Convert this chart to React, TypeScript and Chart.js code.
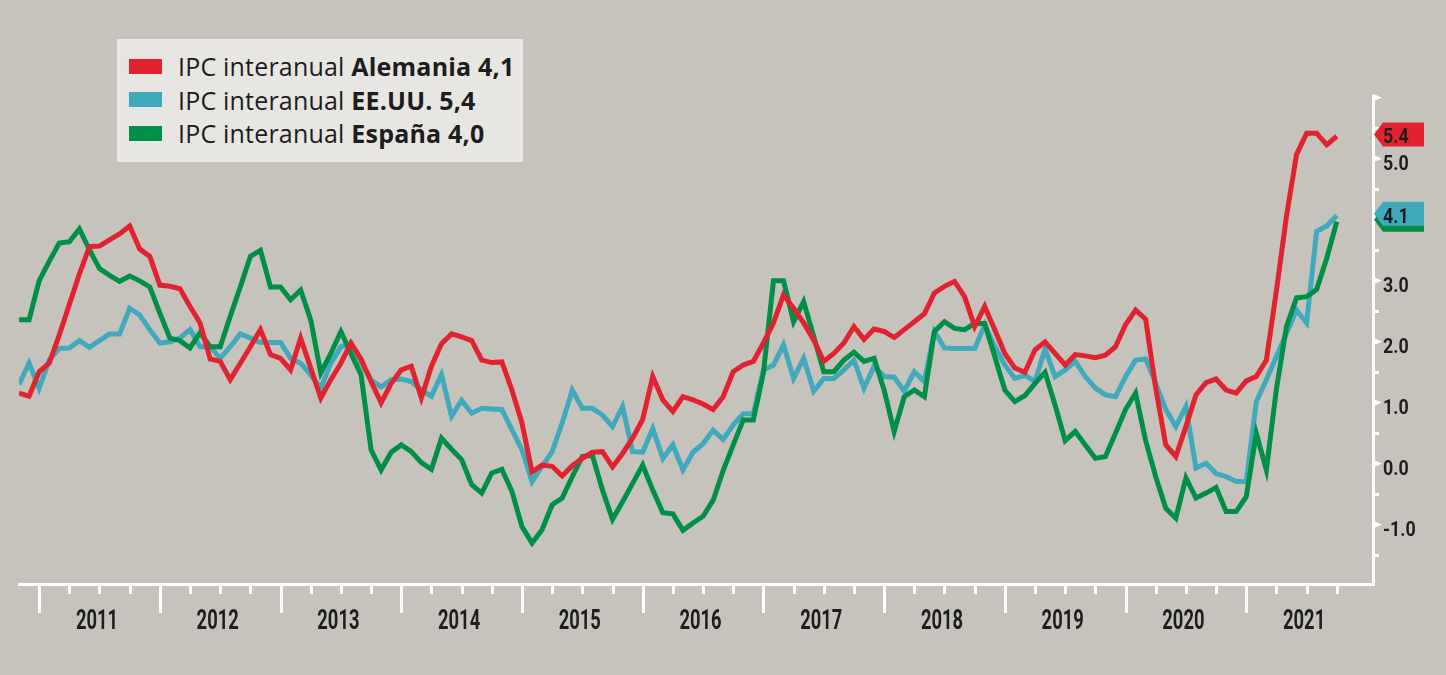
import React, { useEffect, useRef } from 'react';
import { Chart, registerables } from 'chart.js';

Chart.register(...registerables);

// Monthly series, first point = Nov 2010
const serieAlemania = [
  1.16, 1.11, 1.51, 1.65, 2.11, 2.61, 3.11, 3.56, 3.57, 3.67, 3.77, 3.9,
  3.52, 3.4, 2.93, 2.91, 2.87, 2.58, 2.31, 1.72, 1.68, 1.38, 1.65, 1.92,
  2.2, 1.79, 1.73, 1.54, 2.06, 1.57, 1.08, 1.38, 1.65, 1.98, 1.72, 1.35,
  1.0, 1.32, 1.54, 1.6, 1.08, 1.6, 1.97, 2.13, 2.08, 2.02, 1.7, 1.66,
  1.67, 1.21, 0.67, -0.13, -0.02, -0.04, -0.2, -0.03, 0.09, 0.19, 0.2, -0.05,
  0.17, 0.42, 0.73, 1.43, 1.05, 0.86, 1.1, 1.05, 0.98, 0.89, 1.1, 1.51,
  1.62, 1.68, 1.98, 2.31, 2.77, 2.55, 2.31, 2.03, 1.68, 1.81, 1.98, 2.25,
  2.04, 2.21, 2.17, 2.07, 2.2, 2.33, 2.46, 2.8, 2.91, 2.99, 2.74, 2.25,
  2.58, 2.2, 1.81, 1.57, 1.5, 1.87, 2.0, 1.81, 1.62, 1.79, 1.77, 1.74,
  1.78, 1.92, 2.28, 2.52, 2.37, 1.24, 0.31, 0.12, 0.61, 1.13, 1.33, 1.39,
  1.21, 1.16, 1.36, 1.43, 1.7, 2.84, 4.06, 5.07, 5.42, 5.42, 5.23, 5.37,
];
const serieEEUU = [
  1.3, 1.65, 1.24, 1.7, 1.89, 1.9, 2.02, 1.91, 2.02, 2.13, 2.13, 2.55,
  2.44, 2.2, 1.98, 2.0, 2.06, 2.2, 1.92, 1.92, 1.73, 1.92, 2.13, 2.06,
  1.99, 1.99, 1.99, 1.73, 1.65, 1.46, 1.24, 1.65, 1.92, 1.97, 1.65, 1.38,
  1.26, 1.38, 1.39, 1.35, 1.21, 1.11, 1.46, 0.78, 1.04, 0.83, 0.91, 0.9,
  0.89, 0.56, 0.23, -0.29, -0.04, 0.2, 0.67, 1.21, 0.91, 0.91, 0.8, 0.61,
  0.94, 0.2, 0.19, 0.58, 0.09, 0.31, -0.1, 0.19, 0.33, 0.55, 0.4, 0.64,
  0.82, 0.82, 1.54, 1.62, 1.95, 1.4, 1.73, 1.19, 1.4, 1.4, 1.54, 1.7,
  1.24, 1.6, 1.43, 1.42, 1.19, 1.51, 1.35, 2.17, 1.9, 1.89, 1.89, 1.89,
  2.28, 1.92, 1.62, 1.4, 1.45, 1.35, 1.88, 1.43, 1.54, 1.68, 1.43, 1.24,
  1.13, 1.1, 1.43, 1.7, 1.72, 1.32, 0.89, 0.61, 0.94, -0.07, 0.01, -0.16,
  -0.21, -0.29, -0.29, 1.02, 1.38, 1.76, 2.14, 2.52, 2.31, 3.81, 3.9, 4.07,
];
const serieEspana = [
  2.36, 2.36, 3.0, 3.32, 3.62, 3.64, 3.85, 3.51, 3.2, 3.09, 2.99, 3.08,
  3.0, 2.9, 2.47, 2.06, 2.02, 1.9, 2.15, 1.92, 1.92, 2.42, 2.9, 3.4,
  3.5, 2.9, 2.9, 2.69, 2.85, 2.36, 1.49, 1.81, 2.17, 1.81, 1.46, 0.23,
  -0.1, 0.19, 0.31, 0.2, 0.02, -0.09, 0.42, 0.24, 0.07, -0.34, -0.48, -0.15,
  -0.09, -0.45, -1.03, -1.3, -1.08, -0.67, -0.56, -0.21, 0.12, 0.14, -0.43, -0.91,
  -0.62, -0.32, -0.02, -0.43, -0.8, -0.82, -1.09, -0.97, -0.86, -0.6, -0.11, 0.31,
  0.72, 0.72, 1.49, 3.0, 3.0, 2.33, 2.66, 2.09, 1.51, 1.51, 1.7, 1.83,
  1.68, 1.73, 1.21, 0.53, 1.1, 1.21, 1.1, 2.17, 2.33, 2.22, 2.2, 2.3,
  2.3, 1.76, 1.21, 1.02, 1.12, 1.32, 1.5, 0.96, 0.38, 0.53, 0.31, 0.09,
  0.12, 0.5, 0.89, 1.16, 0.38, -0.21, -0.73, -0.89, -0.23, -0.56, -0.48, -0.39,
  -0.78, -0.78, -0.54, 0.5, -0.1, 1.23, 2.25, 2.72, 2.74, 2.86, 3.37, 3.97,
];

const yearLabels = ['2011', '2012', '2013', '2014', '2015', '2016', '2017', '2018', '2019', '2020', '2021'];
const firstJanuaryIndex = 2; // Jan 2011 is the third monthly point
const yTickValues = [-1.5, -1, -0.5, 0, 0.5, 1, 1.5, 2, 2.5, 3, 3.5, 4, 4.5, 5, 5.5, 6];
const yLabelValues = [-1, 0, 1, 2, 3, 4, 5];

const legendPrefix = 'IPC interanual';
const legendNames = ['Alemania 4,1', 'EE.UU. 5,4', 'España 4,0'];
const lineColors = ['#e0232e', '#41a9bc', '#008f47'];

// end-of-series tags (drawn bottom to top: green, teal, red); green text is hidden under teal
const tagTexts = ['', '4.1', '5.4'];
const tagValues = [4.0, 4.1, 5.4];
const tagColors = ['#008f47', '#41a9bc', '#e0232e'];

const COND = "Roboto, 'Liberation Sans', sans-serif";
const BG = '#c6c3bc';
const INK = '#1e1e1e';

function narrowText(ctx: CanvasRenderingContext2D, text: string, x: number, y: number, size: number, sx: number, align: CanvasTextAlign) {
  if (!text) return;
  ctx.save();
  ctx.translate(x, y);
  ctx.scale(sx, 1);
  ctx.font = `bold ${size}px ${COND}`;
  ctx.textAlign = align;
  ctx.textBaseline = 'alphabetic';
  ctx.fillStyle = INK;
  ctx.fillText(text, 0, 0);
  ctx.restore();
}

const overlayPlugin = {
  id: 'overlay',
  afterDraw(chart: any) {
    const { ctx, scales } = chart;
    const xs = scales.x;
    const ys = scales.y;
    const axisY = ys.bottom;
    const axisX = xs.right;
    ctx.save();
    // x tick marks: quarterly minor, yearly major
    ctx.strokeStyle = '#ffffff';
    ctx.lineWidth = 3;
    for (let m = firstJanuaryIndex; m < serieAlemania.length; m += 3) {
      const px = Math.round(xs.getPixelForValue(m)) + 0.5;
      const major = (m - firstJanuaryIndex) % 12 === 0;
      ctx.beginPath();
      ctx.moveTo(px, axisY);
      ctx.lineTo(px, axisY + (major ? 29 : 10));
      ctx.stroke();
    }
    // year labels
    yearLabels.forEach((label, k) => {
      const px = xs.getPixelForValue(firstJanuaryIndex + 12 * k + 5.75);
      narrowText(ctx, label, px, axisY + 45, 27, 0.68, 'center');
    });
    // y integer flags
    ctx.fillStyle = '#ffffff';
    for (const v of yTickValues) {
      if (!Number.isInteger(v)) continue;
      const py = ys.getPixelForValue(v);
      ctx.beginPath();
      ctx.moveTo(axisX, py - 4);
      ctx.lineTo(axisX + 9, py);
      ctx.lineTo(axisX, py + 3.5);
      ctx.closePath();
      ctx.fill();
    }
    // y labels
    for (const v of yLabelValues) {
      const py = ys.getPixelForValue(v);
      narrowText(ctx, v.toFixed(1), axisX + 10, py + 11, 21, 0.85, 'left');
    }
    // tags
    for (let i = 0; i < tagValues.length; i++) {
      const py = ys.getPixelForValue(tagValues[i]);
      const h = 24;
      const tip = axisX + 1;
      const bodyL = axisX + 10;
      const bodyR = axisX + 51;
      ctx.fillStyle = tagColors[i];
      ctx.beginPath();
      ctx.moveTo(tip, py);
      ctx.lineTo(bodyL, py - h / 2);
      ctx.lineTo(bodyR, py - h / 2);
      ctx.lineTo(bodyR, py + h / 2);
      ctx.lineTo(bodyL, py + h / 2);
      ctx.closePath();
      ctx.fill();
      narrowText(ctx, tagTexts[i], axisX + 10, py + 9, 21, 0.85, 'left');
    }
    ctx.restore();
  },
};

export default function App() {
  const canvasRef = useRef<HTMLCanvasElement>(null);

  useEffect(() => {
    const toPoints = (arr: number[]) => arr.map((v, i) => ({ x: i, y: v }));
    const chart = new Chart(canvasRef.current as HTMLCanvasElement, {
      type: 'line',
      data: {
        datasets: [
          { label: `${legendPrefix} ${legendNames[0]}`, data: toPoints(serieAlemania), borderColor: lineColors[0], order: 0 },
          { label: `${legendPrefix} ${legendNames[1]}`, data: toPoints(serieEEUU), borderColor: lineColors[1], order: 2 },
          { label: `${legendPrefix} ${legendNames[2]}`, data: toPoints(serieEspana), borderColor: lineColors[2], order: 1 },
        ].map((d) => ({
          ...d,
          borderWidth: 5,
          pointRadius: 0,
          tension: 0,
          fill: false,
          borderJoinStyle: 'miter' as const,
        })),
      },
      options: {
        responsive: false,
        animation: false,
        layout: { padding: { left: 19, top: 96, right: 0, bottom: 0 } },
        plugins: { legend: { display: false }, tooltip: { enabled: false } },
        scales: {
          x: {
            type: 'linear',
            min: 0,
            max: 134.6,
            afterFit: (s: any) => { s.height = 91; },
            ticks: { display: false },
            grid: { display: false, drawTicks: false },
            border: { display: true, color: '#ffffff', width: 3 },
          },
          y: {
            type: 'linear',
            position: 'right',
            min: -1.97,
            max: 6.03,
            afterFit: (s: any) => { s.width = 73; },
            afterBuildTicks: (s: any) => {
              s.ticks = yTickValues.map((v) => ({ value: v }));
            },
            ticks: { display: false },
            grid: { drawOnChartArea: false, drawTicks: true, tickLength: 6, color: '#ffffff', lineWidth: 3 },
            border: { display: true, color: '#ffffff', width: 3 },
          },
        },
      },
      plugins: [overlayPlugin],
    } as any);
    return () => chart.destroy();
  }, []);

  const rowCenters = [66, 99.5, 133];
  return (
    <div style={{ position: 'fixed', left: 0, top: 0, width: 1446, height: 675, background: BG, overflow: 'hidden' }}>
      <canvas ref={canvasRef} width={1446} height={675} style={{ position: 'absolute', left: 0, top: 0, width: 1446, height: 675, display: 'block' }} />
      <div style={{ position: 'absolute', left: 117, top: 39, width: 406, height: 123, background: '#e8e6e2' }}>
        {legendNames.map((name, i) => (
          <div key={name}>
            <div style={{ position: 'absolute', left: 12, top: rowCenters[i] - 39 - 7.5, width: 33, height: 15, background: lineColors[i] }} />
            <div style={{ position: 'absolute', left: 61, top: rowCenters[i] - 39 - 13, height: 26, lineHeight: '26px', whiteSpace: 'nowrap', fontFamily: "'Open Sans', Arial, sans-serif", fontSize: 25, letterSpacing: '0.2px', color: '#1d1d1d' }}>
              {legendPrefix} <b>{name}</b>
            </div>
          </div>
        ))}
      </div>
    </div>
  );
}
